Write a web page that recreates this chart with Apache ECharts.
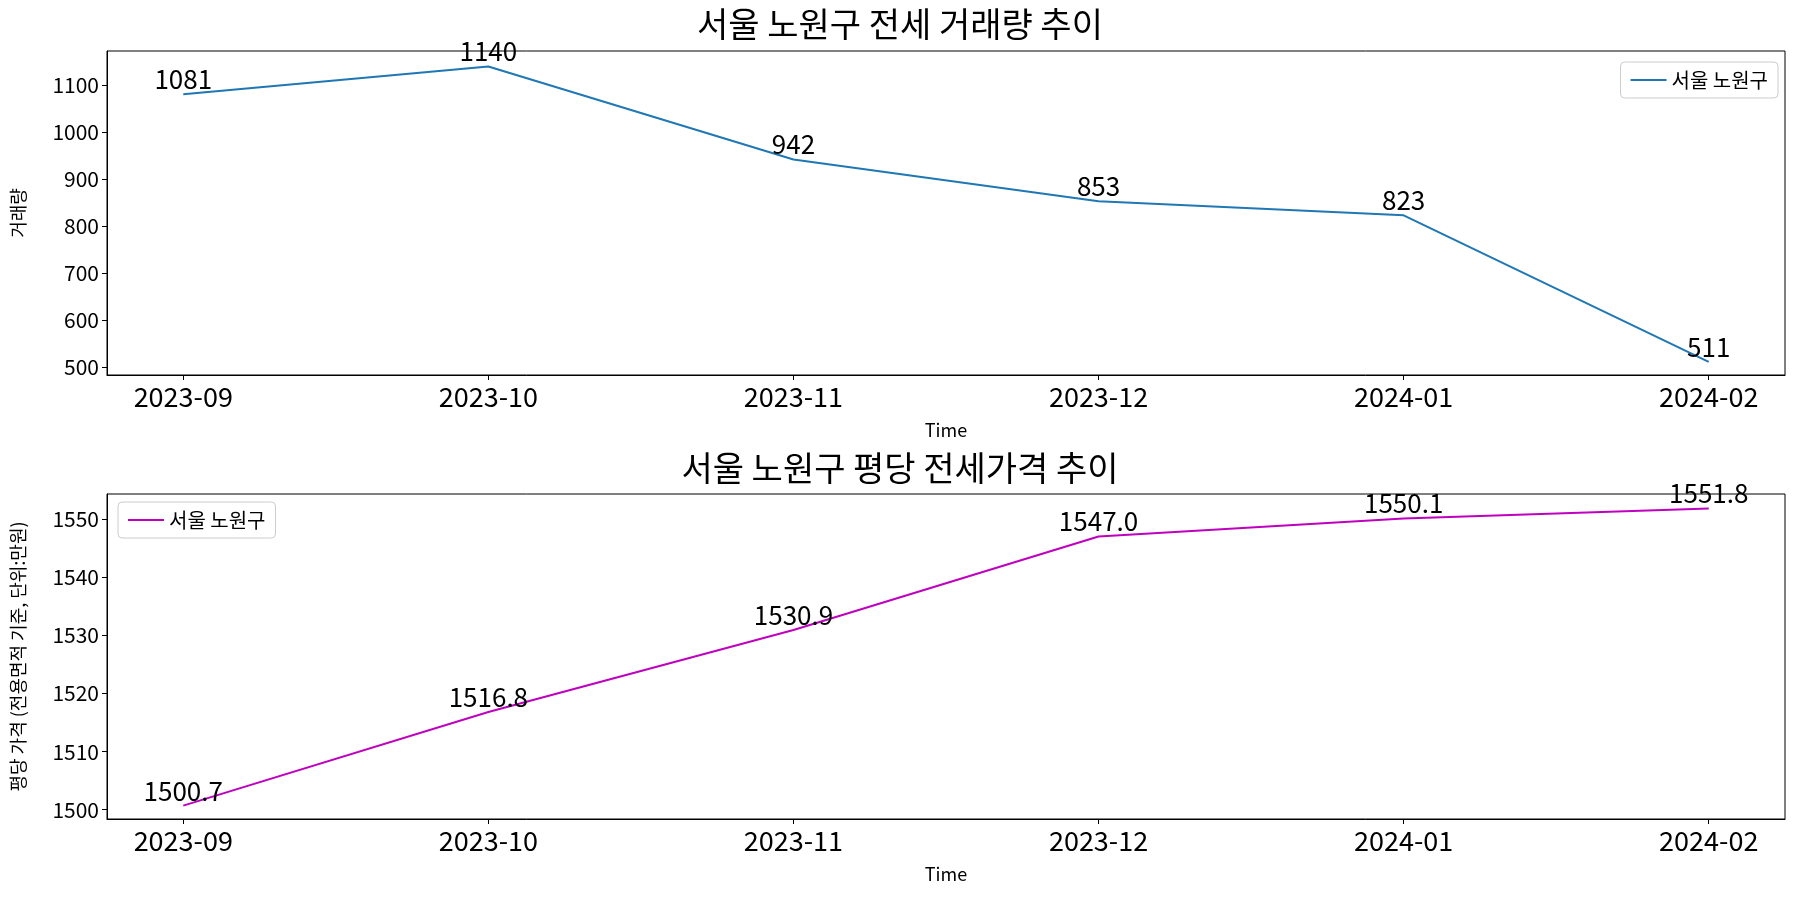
<!DOCTYPE html>
<html>
<head>
<meta charset="UTF-8">
<script src="https://cdn.jsdelivr.net/npm/echarts@6/dist/echarts.min.js"></script>
<style>body{margin:0}#c{width:1800px;height:900px}</style>
</head>
<body>
<div id="c"></div>
<script>
var months = ['2023-09', '2023-10', '2023-11', '2023-12', '2024-01', '2024-02'];
var volume = [1081, 1140, 942, 853, 823, 511];
var price = [1500.7, 1516.8, 1530.9, 1547.0, 1550.1, 1551.8];
var volTicks = [500, 600, 700, 800, 900, 1000, 1100];
var priceTicks = [1500, 1510, 1520, 1530, 1540, 1550];
var name = '서울 노원구';

var F = '"Noto Sans CJK KR", sans-serif';
var chart = echarts.init(document.getElementById('c'));
var idx = months.map(function (m, i) { return i; });

function xAxis(i) {
    return {
        type: 'value', gridIndex: i, min: -0.25, max: 5.25,
        name: 'Time', nameLocation: 'middle', nameGap: 46,
        nameTextStyle: { fontSize: 18, color: '#000', fontFamily: F },
        axisLine: { onZero: false, lineStyle: { color: '#000' } },
        axisTick: { customValues: idx, lineStyle: { color: '#000' } },
        splitLine: { show: false },
        axisLabel: { customValues: idx, fontSize: 27, color: '#000', fontFamily: F,
            formatter: function (v) { return months[Math.round(v)] || ''; } }
    };
}
function yAxis(i, min, max, ticks, nm) {
    return {
        type: 'value', gridIndex: i, min: min, max: max,
        name: nm, nameLocation: 'middle', nameGap: 80,
        nameTextStyle: { fontSize: 18, color: '#000', fontFamily: F },
        axisLine: { show: true, onZero: false, lineStyle: { color: '#000' } },
        axisTick: { show: true, customValues: ticks, lineStyle: { color: '#000' } },
        splitLine: { show: false },
        axisLabel: { customValues: ticks, fontSize: 21, color: '#000', fontFamily: F,
            formatter: function (v) { return String(v); } }
    };
}
function pts(arr) { return arr.map(function (v, i) { return [i, v]; }); }

chart.setOption({
    animation: false,
    title: [
        { text: '서울 노원구 전세 거래량 추이', left: 'center', top: 2, textStyle: { fontSize: 34, fontWeight: 'normal', fontFamily: F, color: '#000' } },
        { text: '서울 노원구 평당 전세가격 추이', left: 'center', top: 446, textStyle: { fontSize: 34, fontWeight: 'normal', fontFamily: F, color: '#000' } }
    ],
    grid: [
        { left: 107, right: 15, top: 51, height: 324, show: true, borderColor: '#000', borderWidth: 1 },
        { left: 107, right: 15, top: 494, height: 325, show: true, borderColor: '#000', borderWidth: 1 }
    ],
    legend: [
        { data: [name], right: 22, top: 62, orient: 'vertical', itemWidth: 36, itemHeight: 2, icon: 'rect',
          backgroundColor: '#fff', borderColor: '#ccc', borderWidth: 1, borderRadius: 4, padding: [8, 10],
          textStyle: { fontSize: 20, fontFamily: F, color: '#000' } },
        { data: [name + ' '], left: 118, top: 502, orient: 'vertical', itemWidth: 36, itemHeight: 2, icon: 'rect',
          backgroundColor: '#fff', borderColor: '#ccc', borderWidth: 1, borderRadius: 4, padding: [8, 10],
          formatter: function () { return name; },
          textStyle: { fontSize: 20, fontFamily: F, color: '#000' } }
    ],
    xAxis: [xAxis(0), xAxis(1)],
    yAxis: [
        yAxis(0, 483, 1173, volTicks, '거래량'),
        yAxis(1, 1498.4, 1554.3, priceTicks, '평당 가격 (전용면적 기준, 단위:만원)')
    ],
    series: [
        { name: name, type: 'line', xAxisIndex: 0, yAxisIndex: 0, data: pts(volume),
          showSymbol: true, symbol: 'circle', symbolSize: 0,
          lineStyle: { color: '#1f77b4', width: 2 }, itemStyle: { color: '#1f77b4' },
          label: { show: true, position: 'top', distance: 2, fontSize: 26, color: '#000', fontFamily: F,
                   formatter: function (p) { return String(p.value[1]); } } },
        { name: name + ' ', type: 'line', xAxisIndex: 1, yAxisIndex: 1, data: pts(price),
          showSymbol: true, symbol: 'circle', symbolSize: 0,
          lineStyle: { color: '#bf00bf', width: 2 }, itemStyle: { color: '#bf00bf' },
          label: { show: true, position: 'top', distance: 2, fontSize: 26, color: '#000', fontFamily: F,
                   formatter: function (p) { return p.value[1].toFixed(1); } } }
    ]
});
</script>
</body>
</html>
